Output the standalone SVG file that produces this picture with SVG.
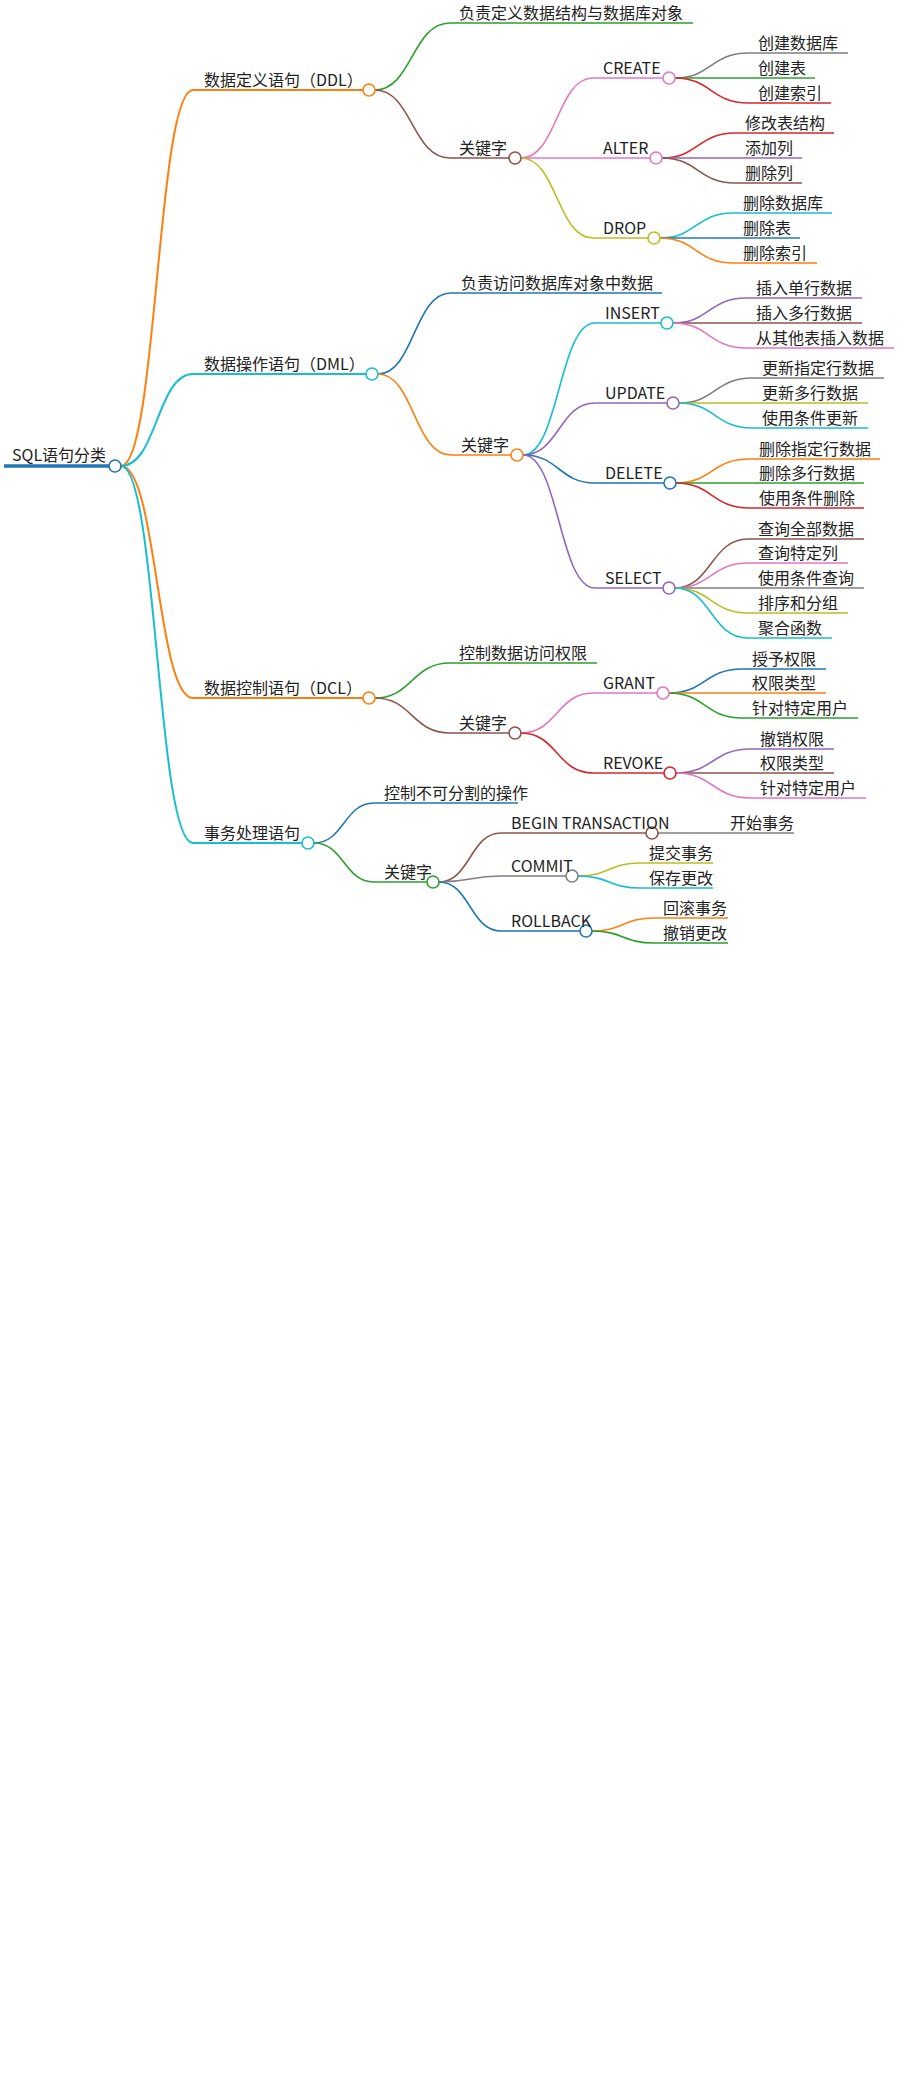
<svg xmlns="http://www.w3.org/2000/svg" width="899" height="2085" viewBox="0 0 899 2085">
<style>
text{font-family:"Noto Sans CJK SC","Noto Sans",sans-serif;font-size:16px;fill:#222}
path{fill:none;stroke-width:1.6}
circle{fill:#fff;stroke-width:1.6}
.bl{stroke:#1f77b4}.or{stroke:#ff7f0e}.gr{stroke:#2ca02c}.rd{stroke:#d62728}.pu{stroke:#9467bd}.br{stroke:#8c564b}.pk{stroke:#e377c2}.gy{stroke:#7f7f7f}.ol{stroke:#bcbd22}.cy{stroke:#17becf}
.w{stroke-width:2}
</style>
<rect width="899" height="2085" fill="#fff"/>
<g id="connectors">
<path class="bl" d="M4,466 H109" style="stroke-width:3.5"/>
<path class="or w" d="M121,466 C157,466 157,90 193,90 H363"/>
<path class="cy w" d="M121,466 C157,466 157,374 193,374 H366"/>
<path class="or w" d="M121,466 C157,466 157,698 193,698 H363"/>
<path class="cy w" d="M121,466 C157,466 157,843 193,843 H302"/>
<path class="gr" d="M375,90 C412,90 412,23 450,23 H693"/>
<path class="br" d="M375,90 C412,90 412,158 450,158 H509"/>
<path class="pk" d="M521,158 C557,158 557,78 593,78 H663"/>
<path class="pk" d="M521,158 C557,158 557,158 593,158 H650"/>
<path class="ol" d="M521,158 C557,158 557,238 593,238 H648"/>
<path class="gy" d="M675,78 C711,78 711,53 748,53 H848"/>
<path class="gr" d="M675,78 C711,78 711,78 748,78 H815"/>
<path class="rd" d="M675,78 C711,78 711,103 748,103 H831"/>
<path class="rd" d="M662,158 C698,158 698,133 735,133 H834"/>
<path class="pu" d="M662,158 C698,158 698,158 735,158 H802"/>
<path class="br" d="M662,158 C698,158 698,183 735,183 H802"/>
<path class="cy" d="M660,238 C696,238 696,213 733,213 H832"/>
<path class="bl" d="M660,238 C696,238 696,238 733,238 H800"/>
<path class="or" d="M660,238 C696,238 696,263 733,263 H817"/>
<path class="bl" d="M378,374 C414,374 414,293 451,293 H662"/>
<path class="or" d="M378,374 C414,374 414,455 451,455 H511"/>
<path class="cy" d="M523,455 C559,455 559,323 595,323 H661"/>
<path class="pu" d="M523,455 C559,455 559,403 595,403 H667"/>
<path class="bl" d="M523,455 C559,455 559,483 595,483 H664"/>
<path class="pu" d="M523,455 C559,455 559,588 595,588 H663"/>
<path class="pu" d="M673,323 C709,323 709,298 746,298 H862"/>
<path class="br" d="M673,323 C709,323 709,323 746,323 H862"/>
<path class="pk" d="M673,323 C709,323 709,348 746,348 H894"/>
<path class="gy" d="M679,403 C715,403 715,378 752,378 H884"/>
<path class="ol" d="M679,403 C715,403 715,403 752,403 H868"/>
<path class="cy" d="M679,403 C715,403 715,428 752,428 H868"/>
<path class="or" d="M676,483 C712,483 712,459 749,459 H880"/>
<path class="gr" d="M676,483 C712,483 712,483 749,483 H864"/>
<path class="rd" d="M676,483 C712,483 712,508 749,508 H864"/>
<path class="br" d="M675,588 C711,588 711,539 748,539 H864"/>
<path class="pk" d="M675,588 C711,588 711,563 748,563 H848"/>
<path class="gy" d="M675,588 C711,588 711,588 748,588 H864"/>
<path class="ol" d="M675,588 C711,588 711,613 748,613 H848"/>
<path class="cy" d="M675,588 C711,588 711,638 748,638 H832"/>
<path class="gr" d="M375,698 C412,698 412,663 450,663 H597"/>
<path class="br" d="M375,698 C412,698 412,733 450,733 H509"/>
<path class="pk" d="M521,733 C557,733 557,693 593,693 H657"/>
<path class="rd" d="M521,733 C557,733 557,773 593,773 H664"/>
<path class="bl" d="M669,693 C705,693 705,669 742,669 H826"/>
<path class="or" d="M669,693 C705,693 705,693 742,693 H826"/>
<path class="gr" d="M669,693 C705,693 705,718 742,718 H858"/>
<path class="pu" d="M676,773 C713,773 713,749 750,749 H834"/>
<path class="br" d="M676,773 C713,773 713,773 750,773 H834"/>
<path class="pk" d="M676,773 C713,773 713,798 750,798 H866"/>
<path class="bl" d="M314,843 C344,843 344,803 374,803 H518"/>
<path class="gr" d="M314,843 C344,843 344,882 374,882 H427"/>
<path class="br" d="M439,882 C470,882 470,833 501,833 H646"/>
<path class="gy" d="M439,882 C470,882 470,876 501,876 H566"/>
<path class="bl" d="M439,882 C470,882 470,931 501,931 H580"/>
<path class="gy" d="M658,833 H794"/>
<path class="ol" d="M578,876 C609,876 609,863 640,863 H713"/>
<path class="cy" d="M578,876 C609,876 609,888 640,888 H713"/>
<path class="or" d="M592,931 C623,931 623,918 654,918 H728"/>
<path class="gr" d="M592,931 C623,931 623,943 654,943 H728"/>
</g>
<g id="root"><circle class="bl" cx="115" cy="466" r="6"/><text x="12" y="461">SQL语句分类</text></g>
<g id="ddl"><circle class="or" cx="369" cy="90" r="6"/><text x="204" y="86">数据定义语句（DDL）</text></g>
<g id="ddl-desc"><text x="459" y="19">负责定义数据结构与数据库对象</text></g>
<g id="ddl-kw"><circle class="br" cx="515" cy="158" r="6"/><text x="459" y="154">关键字</text></g>
<g id="create"><circle class="pk" cx="669" cy="78" r="6"/><text x="603" y="74">CREATE</text></g>
<g id="create-l"><text x="758" y="49">创建数据库</text><text x="758" y="74">创建表</text><text x="758" y="99">创建索引</text></g>
<g id="alter"><circle class="pk" cx="656" cy="158" r="6"/><text x="603" y="154">ALTER</text></g>
<g id="alter-l"><text x="745" y="129">修改表结构</text><text x="745" y="154">添加列</text><text x="745" y="179">删除列</text></g>
<g id="drop"><circle class="ol" cx="654" cy="238" r="6"/><text x="603" y="234">DROP</text></g>
<g id="drop-l"><text x="743" y="209">删除数据库</text><text x="743" y="234">删除表</text><text x="743" y="259">删除索引</text></g>
<g id="dml"><circle class="cy" cx="372" cy="374" r="6"/><text x="204" y="370">数据操作语句（DML）</text></g>
<g id="dml-desc"><text x="461" y="289">负责访问数据库对象中数据</text></g>
<g id="dml-kw"><circle class="or" cx="517" cy="455" r="6"/><text x="461" y="451">关键字</text></g>
<g id="insert"><circle class="cy" cx="667" cy="323" r="6"/><text x="605" y="319">INSERT</text></g>
<g id="insert-l"><text x="756" y="294">插入单行数据</text><text x="756" y="319">插入多行数据</text><text x="756" y="344">从其他表插入数据</text></g>
<g id="update"><circle class="pu" cx="673" cy="403" r="6"/><text x="605" y="399">UPDATE</text></g>
<g id="update-l"><text x="762" y="374">更新指定行数据</text><text x="762" y="399">更新多行数据</text><text x="762" y="424">使用条件更新</text></g>
<g id="delete"><circle class="bl" cx="670" cy="483" r="6"/><text x="605" y="479">DELETE</text></g>
<g id="delete-l"><text x="759" y="455">删除指定行数据</text><text x="759" y="479">删除多行数据</text><text x="759" y="504">使用条件删除</text></g>
<g id="select"><circle class="pu" cx="669" cy="588" r="6"/><text x="605" y="584">SELECT</text></g>
<g id="select-l"><text x="758" y="535">查询全部数据</text><text x="758" y="559">查询特定列</text><text x="758" y="584">使用条件查询</text><text x="758" y="609">排序和分组</text><text x="758" y="634">聚合函数</text></g>
<g id="dcl"><circle class="or" cx="369" cy="698" r="6"/><text x="204" y="694">数据控制语句（DCL）</text></g>
<g id="dcl-desc"><text x="459" y="659">控制数据访问权限</text></g>
<g id="dcl-kw"><circle class="br" cx="515" cy="733" r="6"/><text x="459" y="729">关键字</text></g>
<g id="grant"><circle class="pk" cx="663" cy="693" r="6"/><text x="603" y="689">GRANT</text></g>
<g id="grant-l"><text x="752" y="665">授予权限</text><text x="752" y="689">权限类型</text><text x="752" y="714">针对特定用户</text></g>
<g id="revoke"><circle class="rd" cx="670" cy="773" r="6"/><text x="603" y="769">REVOKE</text></g>
<g id="revoke-l"><text x="760" y="745">撤销权限</text><text x="760" y="769">权限类型</text><text x="760" y="794">针对特定用户</text></g>
<g id="tx"><circle class="cy" cx="308" cy="843" r="6"/><text x="204" y="839">事务处理语句</text></g>
<g id="tx-desc"><text x="384" y="799">控制不可分割的操作</text></g>
<g id="tx-kw"><circle class="gr" cx="433" cy="882" r="6"/><text x="384" y="878">关键字</text></g>
<g id="begin"><circle class="br" cx="652" cy="833" r="6"/><text x="511" y="829">BEGIN TRANSACTION</text><text x="730" y="829">开始事务</text></g>
<g id="commit"><circle class="gy" cx="572" cy="876" r="6"/><text x="511" y="872">COMMIT</text><text x="649" y="859">提交事务</text><text x="649" y="884">保存更改</text></g>
<g id="rollback"><circle class="bl" cx="586" cy="931" r="6"/><text x="511" y="927">ROLLBACK</text><text x="663" y="914">回滚事务</text><text x="663" y="939">撤销更改</text></g>
</svg>
